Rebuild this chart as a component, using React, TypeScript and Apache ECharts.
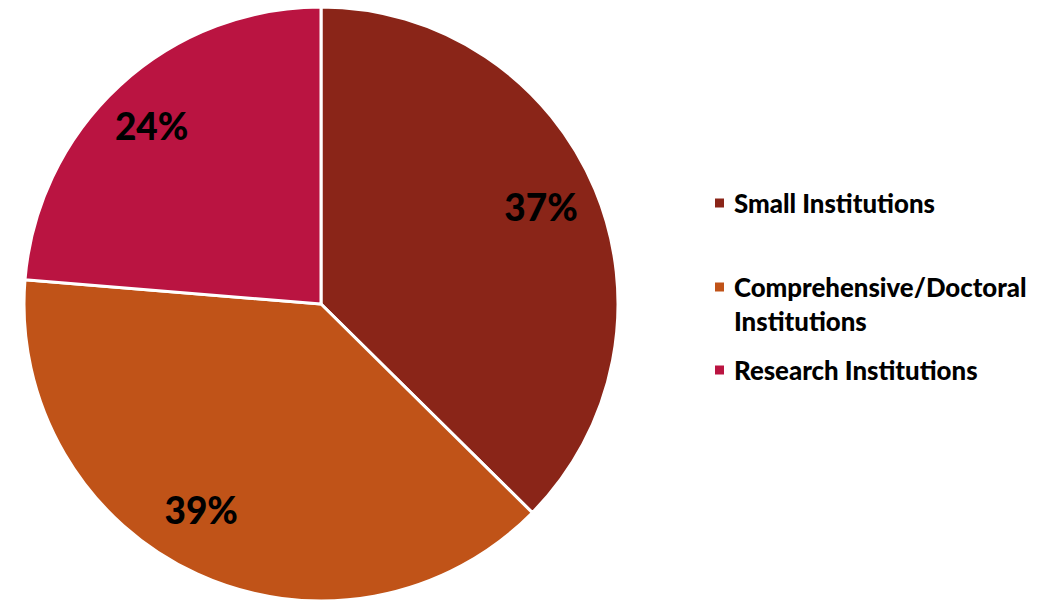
import React, { useEffect, useRef } from "react";
import * as echarts from "echarts";

const categories = ["Small Institutions", "Comprehensive/Doctoral Institutions", "Research Institutions"];
const legendLabels = ["Small Institutions", " \nComprehensive/Doctoral\nInstitutions", "Research Institutions"];
const values = [37.4, 38.9, 23.7];
const colors = ["#8A2518", "#C05318", "#BA1441"];

export default function App() {
  const ref = useRef<HTMLDivElement>(null);
  useEffect(() => {
    document.body.style.margin = "0";
    const chart = echarts.init(ref.current!, null, { renderer: "svg" });
    const data = categories.map((name, i) => ({ name, value: values[i], itemStyle: { color: colors[i] } }));
    const font = "Lato, 'Open Sans', sans-serif";
    const legendTops = [186, 236, 353];
    const labelOffsets = [[-5, -3], [-18, -16], [-4, 1]];
    const legends = categories.map((name, i) => ({
      data: [name],
      orient: "vertical",
      left: 713,
      top: legendTops[i],
      padding: 0,
      itemWidth: 11,
      itemHeight: 11,
      icon: "rect",
      selectedMode: false,
      formatter: () => legendLabels[i],
      textStyle: {
        fontFamily: font,
        fontWeight: 900,
        fontSize: 25.8,
        lineHeight: 34,
        color: "#000",
        padding: [0, 0, 0, 4],
      },
    }));
    chart.setOption({
      animation: false,
      backgroundColor: "#fff",
      legend: legends,
      series: [
        {
          type: "pie",
          center: [321, 304],
          radius: [0, 297],
          startAngle: 90,
          clockwise: true,
          data,
          label: { show: false },
          labelLine: { show: false },
          itemStyle: { borderColor: "#fff", borderWidth: 3 },
          emphasis: { disabled: true },
        },
        {
          type: "pie",
          center: [321, 304],
          radius: [185, 297],
          startAngle: 90,
          clockwise: true,
          silent: true,
          data: categories.map((name, i) => ({ name, value: values[i], label: { offset: labelOffsets[i] } })),
          itemStyle: { color: "rgba(0,0,0,0)" },
          label: {
            show: true,
            position: "inside",
            formatter: (p: any) => Math.round(p.value) + "%",
            fontFamily: font,
            fontWeight: 900,
            fontSize: 37,
            color: "#000",
          },
          labelLine: { show: false },
          emphasis: { disabled: true },
        },
      ],
    });
    return () => chart.dispose();
  }, []);
  return <div ref={ref} style={{ position: "fixed", left: 0, top: 0, width: 1040, height: 602 }} />;
}
